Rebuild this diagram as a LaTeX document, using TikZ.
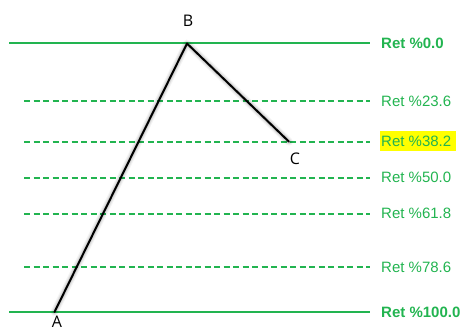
\documentclass[tikz,border=0pt]{standalone}
\usepackage{fontspec}
\setmainfont{Liberation Sans}
\newfontfamily\ptfont{Open Sans}
\definecolor{retgreen}{RGB}{34,180,80}
\definecolor{hlyellow}{RGB}{255,255,0}
\tikzset{
  solidlevel/.style={draw=retgreen, line width=2pt},
  dashlevel/.style={draw=retgreen, line width=1.5pt, dash pattern=on 6pt off 3.5pt},
  retlabel/.style={anchor=west, inner sep=0pt, text=retgreen, font=\fontsize{15}{18}\selectfont},
  ptlabel/.style={inner sep=0pt, font=\ptfont\fontsize{16}{19}\selectfont},
  wave/.style={draw=black, line width=2pt, line cap=round, line join=round},
  waveshadow/.style={draw=black, line cap=round, line join=round}
}
\begin{document}
\begin{tikzpicture}[x=1pt,y=-1pt]
\useasboundingbox (0,0) rectangle (465,331);
% level end points
\foreach \n/\yy in {la/43,lb/101,lc/142,ld/178,le/214,lf/267,lg/312}{
  \coordinate (\n R) at (370,\yy);
}
\coordinate (laL) at (9,43);
\coordinate (lgL) at (9,312);
\foreach \n/\yy in {lb/101,lc/142,ld/178,le/214,lf/267}{
  \coordinate (\n L) at (24,\yy);
}
% levels
\draw[solidlevel] (laL) -- (laR);
\draw[solidlevel] (lgL) -- (lgR);
\draw[dashlevel] (lbL) -- (lbR);
\draw[dashlevel] (lcL) -- (lcR);
\draw[dashlevel] (ldL) -- (ldR);
\draw[dashlevel] (leL) -- (leR);
\draw[dashlevel] (lfL) -- (lfR);
% labels
\fill[hlyellow] (380,131) rectangle (455.5,151);
\node[retlabel, font=\bfseries\fontsize{15}{18}\selectfont] (t0) at (381,43.3) {Ret \%0.0};
\node[retlabel] (t236) at (381,101) {Ret \%23.6};
\node[retlabel] (t382) at (381,141.5) {Ret \%38.2};
\node[retlabel] (t50) at (381,177.7) {Ret \%50.0};
\node[retlabel] (t618) at (381,213.7) {Ret \%61.8};
\node[retlabel] (t786) at (381,267.3) {Ret \%78.6};
\node[retlabel, font=\bfseries\fontsize{15}{18}\selectfont] (t100) at (381,312.3) {Ret \%100.0};
% wave points
\coordinate (A) at (54.5,312);
\coordinate (B) at (187,43.5);
\coordinate (C) at (289,141.7);
% shadow
\foreach \w/\o in {8/0.04,6/0.05,4.5/0.06,3/0.07}{
  \draw[waveshadow, line width=\w pt, opacity=\o, shift={(3,3)}] (A) -- (B) -- (C);
}
\draw[wave] (A) -- (B) -- (C);
% point labels
\node[ptlabel] (nA) at (57,321.5) {A};
\node[ptlabel] (nB) at (188,21) {B};
\node[ptlabel] (nC) at (295,158.5) {C};
\end{tikzpicture}
\end{document}
